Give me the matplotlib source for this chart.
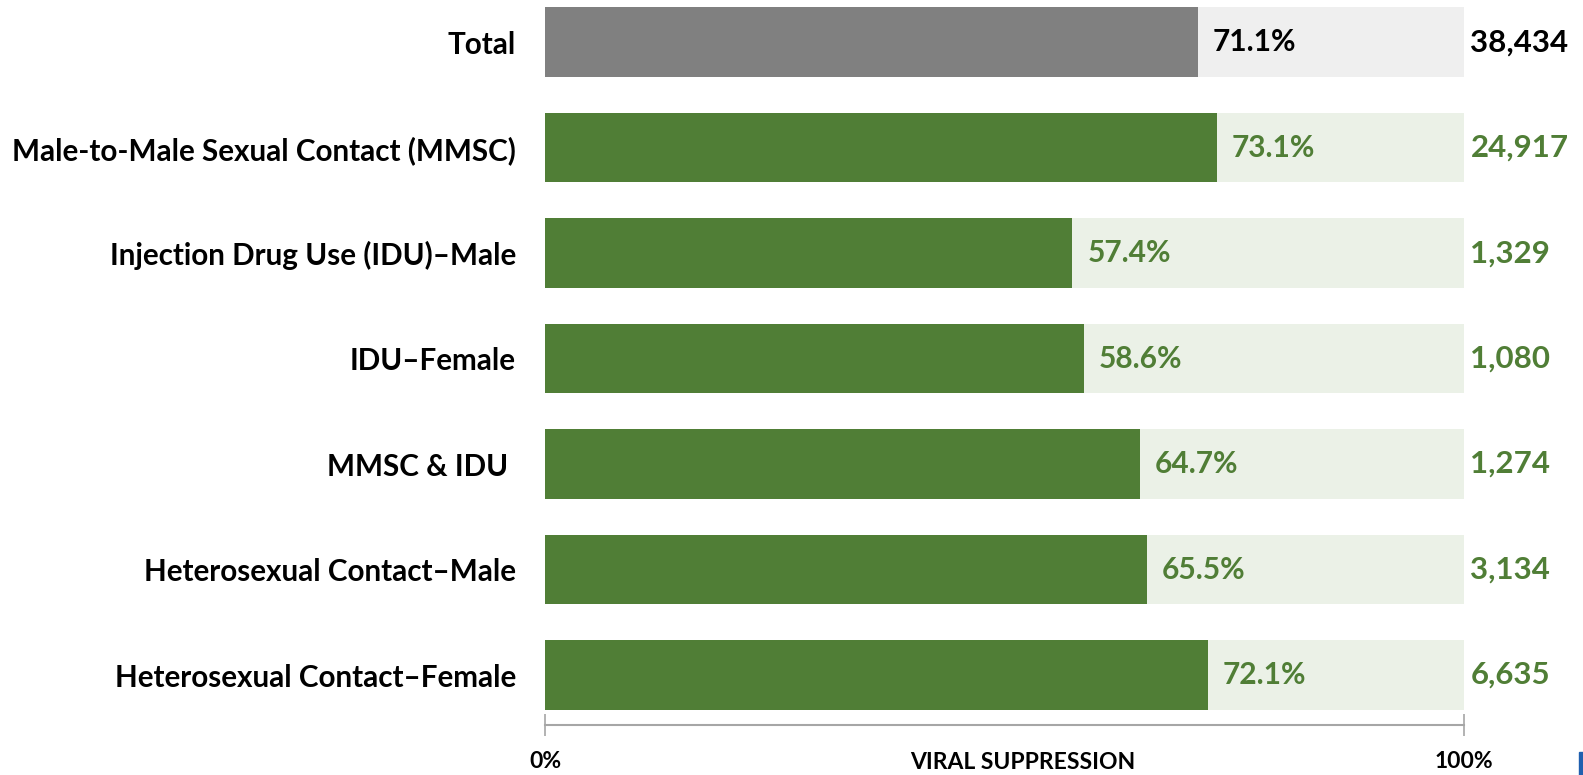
import matplotlib.pyplot as plt
import matplotlib
from matplotlib.patches import Rectangle

matplotlib.rcParams.update({
    "font.family": ["Lato", "DejaVu Sans"],
    "font.weight": "bold",
})

# data
categories = ["Total", "Male-to-Male Sexual Contact (MMSC)", "Injection Drug Use (IDU)\u2013Male",
              "IDU\u2013Female", "MMSC & IDU ", "Heterosexual Contact\u2013Male",
              "Heterosexual Contact\u2013Female"]
suppression = [71.1, 73.1, 57.4, 58.6, 64.7, 65.5, 72.1]
counts = ["38,434", "24,917", "1,329", "1,080", "1,274", "3,134", "6,635"]

green = "#507E36"
light_green = "#EBF1E7"
gray = "#808080"
light_gray = "#EFEFEF"

fig = plt.figure(figsize=(15.83, 7.75), dpi=100)
ax = fig.add_axes([0.3443, 0.0645, 0.5805, 0.9355])

ypos = list(range(len(categories)))
for i, (v, n) in enumerate(zip(suppression, counts)):
    fg, bg, tc = (gray, light_gray, "black") if i == 0 else (green, light_green, green)
    ax.barh(i, 100, height=0.66, color=bg)
    ax.barh(i, v, height=0.66, color=fg)
    ax.text(v + 1.6, i, f"{v:.1f}%", va="center", ha="left", color=tc, fontsize=21.5, fontweight="bold")
    ax.text(100.7, i, n, va="center", ha="left", color=tc, fontsize=22.5, fontweight="bold")

ax.set_xlim(0, 100)
ax.set_ylim(6.474, -0.4)
ax.set_yticks(ypos)
ax.set_yticklabels(categories, fontsize=21.3, fontweight="bold")
ax.tick_params(axis="y", length=0, pad=21)

for s in ["top", "right", "left"]:
    ax.spines[s].set_visible(False)
ax.spines["bottom"].set_color("#A6A6A6")
ax.spines["bottom"].set_linewidth(1.5)
ax.set_xticks([0, 100])
ax.set_xticklabels(["0%", "100%"], fontsize=16.5, fontweight="bold")
ax.tick_params(axis="x", direction="inout", length=16, width=1.2, color="#A6A6A6", pad=11)
ax.text(52, -0.037, "VIRAL SUPPRESSION", transform=ax.get_xaxis_transform(), ha="center", va="top",
        fontsize=16.5, fontweight="bold")

# small cropped logo edge in the bottom-right corner
fig.patches.append(Rectangle((0.9975, 0.0), 0.003, 0.03, transform=fig.transFigure,
                             color="#1F5FAF", zorder=5))

fig.savefig("out.png", dpi=100)
